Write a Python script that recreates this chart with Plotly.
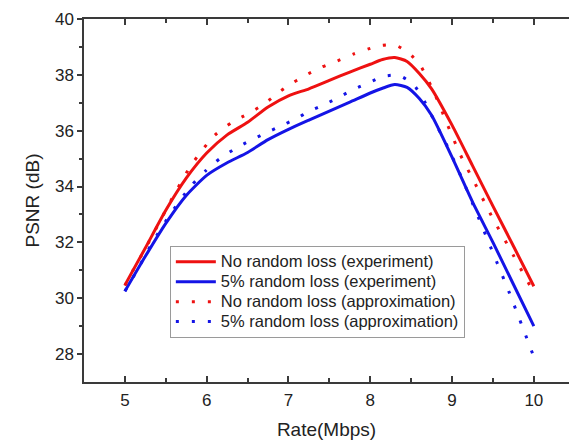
import plotly.graph_objects as go

# PSNR vs. rate, experiment (solid) and approximation (dotted)
rate_exp = [5.0, 5.25, 5.5, 5.75, 6.0, 6.25, 6.5, 6.75, 7.0, 7.25, 7.5, 7.75,
            8.0, 8.15, 8.3, 8.45, 8.6, 8.75, 9.0, 9.25, 9.5, 9.75, 10.0]
psnr_noloss_exp = [30.47, 31.8, 33.15, 34.3, 35.2, 35.85, 36.3, 36.85, 37.25, 37.5,
                   37.8, 38.1, 38.38, 38.55, 38.62, 38.48, 38.05, 37.5, 36.2,
                   34.75, 33.3, 31.87, 30.43]
psnr_loss5_exp = [30.25, 31.5, 32.68, 33.68, 34.4, 34.85, 35.22, 35.68, 36.05, 36.38,
                  36.7, 37.02, 37.35, 37.52, 37.65, 37.55, 37.15, 36.55, 35.05,
                  33.45, 32.0, 30.5, 29.0]

rate_noloss_apx = [5.0, 5.1, 5.2, 5.3, 5.4, 5.5, 5.6, 5.7, 5.8, 5.95, 6.1, 6.3, 6.5,
                   6.7, 6.85, 7.0, 7.2, 7.4, 7.6, 7.8, 8.0, 8.1, 8.3, 8.47, 8.62,
                   8.8, 8.95, 9.1, 9.3, 9.5, 9.7, 10.0]
psnr_noloss_apx = [30.45, 31.0, 31.52, 32.05, 32.6, 33.15, 33.7, 34.22, 34.72, 35.32,
                   35.84, 36.28, 36.6, 36.95, 37.3, 37.62, 37.97, 38.27, 38.5, 38.75,
                   38.95, 39.04, 39.07, 38.79, 38.3, 37.24, 36.17, 35.15, 34.0,
                   32.85, 31.8, 30.2]

rate_loss5_apx = [5.0, 5.13, 5.33, 5.55, 5.81, 5.99, 6.16, 6.34, 6.52, 6.71, 6.9,
                  7.08, 7.26, 7.45, 7.63, 7.81, 7.99, 8.17, 8.35, 8.53, 8.66, 8.8,
                  8.93, 9.09, 9.3, 9.5, 9.7, 10.0]
psnr_loss5_apx = [30.25, 30.9, 31.96, 32.99, 34.03, 34.57, 35.0, 35.34, 35.63, 35.9,
                  36.16, 36.41, 36.7, 36.95, 37.22, 37.5, 37.73, 37.95, 37.98, 37.65,
                  37.06, 36.25, 35.52, 34.5, 33.05, 31.63, 30.2, 27.9]

series_names = ["No random loss (experiment)", "5% random loss (experiment)",
                "No random loss (approximation)", "5% random loss (approximation)"]

RED = "#ee1111"
BLUE = "#1414e6"
DOTS = "3px,13px"
LEGEND_TEXT_PX = 16.5


def legend_label(text):
    # larger rendered text on a compact legend row pitch
    return f"<span style='font-size:{LEGEND_TEXT_PX}px'>{text}</span>"


fig = go.Figure()
fig.add_trace(go.Scatter(x=rate_exp, y=psnr_noloss_exp, mode="lines",
                         name=legend_label(series_names[0]),
                         line=dict(color=RED, width=3, shape="spline", smoothing=0.6)))
fig.add_trace(go.Scatter(x=rate_exp, y=psnr_loss5_exp, mode="lines",
                         name=legend_label(series_names[1]),
                         line=dict(color=BLUE, width=3, shape="spline", smoothing=0.6)))
fig.add_trace(go.Scatter(x=rate_noloss_apx, y=psnr_noloss_apx, mode="lines",
                         name=legend_label(series_names[2]),
                         line=dict(color=RED, width=3, dash=DOTS, shape="spline", smoothing=0.6)))
fig.add_trace(go.Scatter(x=rate_loss5_apx, y=psnr_loss5_apx, mode="lines",
                         name=legend_label(series_names[3]),
                         line=dict(color=BLUE, width=3, dash=DOTS, shape="spline", smoothing=0.6)))

AXIS_COLOR = "#3a3a3a"
FONT = "Liberation Sans, Arial, sans-serif"

fig.update_layout(
    width=569, height=444,
    margin=dict(l=84, r=0, t=19, b=62),
    paper_bgcolor="white", plot_bgcolor="white",
    font=dict(family=FONT, color="#222222", size=17),
    showlegend=True,
    legend=dict(x=0.177, y=0.375, xanchor="left", yanchor="top",
                bgcolor="white", bordercolor="#9a9a9a", borderwidth=1,
                font=dict(size=13, family=FONT, color="#222222"),
                tracegroupgap=0, itemwidth=40),
)

fig.update_xaxes(
    range=[4.5, 10.43], tickmode="array", tickvals=[5, 6, 7, 8, 9, 10],
    ticks="inside", ticklen=6, tickwidth=1.5, tickcolor=AXIS_COLOR,
    minor=dict(tickvals=[5.5, 6.5, 7.5, 8.5, 9.5], ticks="inside", ticklen=4,
               tickwidth=1.5, tickcolor=AXIS_COLOR),
    showline=True, linecolor=AXIS_COLOR, linewidth=1.5, mirror="allticks",
    showgrid=False, zeroline=False,
    tickfont=dict(size=17), ticklabelstandoff=2,
    title=dict(text="Rate(Mbps)", font=dict(size=19), standoff=14),
)
fig.update_yaxes(
    range=[27, 40], tickmode="array", tickvals=[28, 30, 32, 34, 36, 38, 40],
    ticks="outside", ticklen=5, tickwidth=1.5, tickcolor=AXIS_COLOR,
    minor=dict(tickvals=[29, 31, 33, 35, 37, 39], ticks="outside", ticklen=3,
               tickwidth=1.5, tickcolor=AXIS_COLOR),
    showline=True, linecolor=AXIS_COLOR, linewidth=1.5, mirror=False,
    showgrid=False, zeroline=False,
    tickfont=dict(size=17),
    title=dict(text="PSNR (dB)", font=dict(size=19), standoff=10),
)

fig.write_html("out.html")
